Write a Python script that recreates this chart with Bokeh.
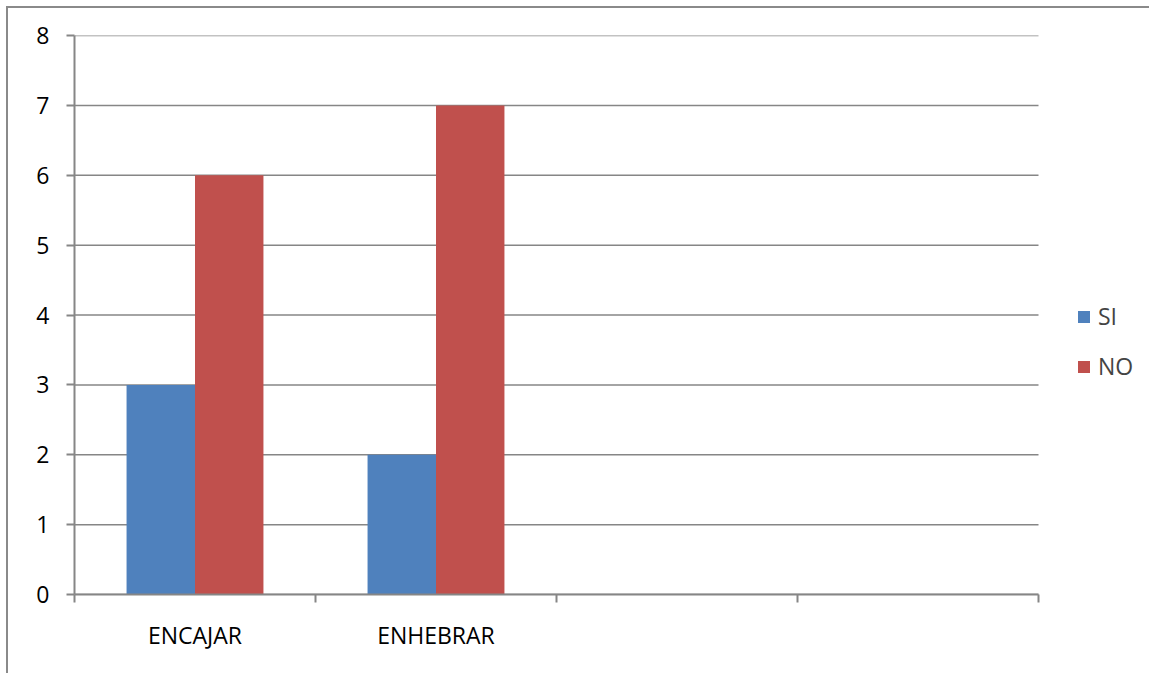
from bokeh.plotting import figure
from bokeh.models import FixedTicker, Legend, LegendItem, Range1d, ColumnDataSource
from bokeh.embed import file_html
from bokeh.resources import INLINE

categories = ["ENCAJAR", "ENHEBRAR", "", ""]
si_values = [3, 2]
no_values = [6, 7]
series_names = ["SI", "NO"]
y_ticks = [0, 1, 2, 3, 4, 5, 6, 7, 8]

BLUE = "#4F81BD"
RED = "#C0504D"
GRID = "#868686"
FONT = "Open Sans"

W, H = 1143, 667
LEFT, TOP, BOTTOM = 66, 27, 81
PLOT_W = 964  # width of the category area in pixels
n = len(categories)
x_end = n * (W - LEFT) / PLOT_W  # frame extends right to hold the legend

p = figure(width=W, height=H, output_backend="svg", toolbar_location=None,
           x_range=Range1d(0, x_end), y_range=Range1d(0, 8),
           min_border_left=LEFT, min_border_top=TOP, min_border_right=0, min_border_bottom=BOTTOM)
p.outline_line_color = None
p.margin = (6, 0, 0, 6)
p.styles = {"border-left": "2px solid #8a8a8a", "border-top": "2px solid #8a8a8a"}

# horizontal grid lines over the category area only
p.segment(x0=[0] * len(y_ticks), x1=[n] * len(y_ticks), y0=y_ticks, y1=y_ticks,
          line_color=GRID, line_width=1.5)

bw = 0.284
xs = [i + 0.5 for i in range(len(si_values))]
src_si = ColumnDataSource(dict(x=[x - bw / 2 for x in xs], top=si_values))
src_no = ColumnDataSource(dict(x=[x + bw / 2 for x in xs], top=no_values))
r_si = p.vbar(x="x", top="top", width=bw, source=src_si, fill_color=BLUE, line_color=None)
r_no = p.vbar(x="x", top="top", width=bw, source=src_no, fill_color=RED, line_color=None)

# x axis
centers = [i + 0.5 for i in range(n)]
p.xaxis.bounds = (0, n)
p.xaxis.ticker = FixedTicker(ticks=centers, minor_ticks=list(range(n + 1)))
p.xaxis.major_label_overrides = {c: lab for c, lab in zip(centers, categories)}
p.xaxis.major_tick_out = 0
p.xaxis.major_tick_in = 0
p.xaxis.minor_tick_out = 8
p.xaxis.minor_tick_in = 0
p.xaxis.minor_tick_line_color = GRID
p.xaxis.minor_tick_line_width = 2
p.xaxis.axis_line_color = GRID
p.xaxis.axis_line_width = 2
p.xaxis.major_label_standoff = 16
p.xaxis.major_label_text_font = FONT
p.xaxis.major_label_text_font_size = "23px"
p.xaxis.major_label_text_color = "#000000"

# y axis
p.yaxis.ticker = FixedTicker(ticks=y_ticks)
p.yaxis.major_tick_out = 8
p.yaxis.major_tick_in = 0
p.yaxis.major_tick_line_color = GRID
p.yaxis.major_tick_line_width = 2
p.yaxis.minor_tick_line_color = None
p.yaxis.axis_line_color = GRID
p.yaxis.axis_line_width = 2
p.yaxis.major_label_standoff = 17
p.yaxis.major_label_text_font = FONT
p.yaxis.major_label_text_font_size = "23px"
p.yaxis.major_label_text_color = "#000000"

p.xgrid.grid_line_color = None
p.ygrid.grid_line_color = None

legend = Legend(items=[LegendItem(label=series_names[0], renderers=[r_si]),
                       LegendItem(label=series_names[1], renderers=[r_no])],
                location=(1002, 212), border_line_color=None, background_fill_alpha=0,
                glyph_width=15, glyph_height=15, spacing=18, label_text_font=FONT,
                label_text_font_size="23px", label_standoff=7, padding=4, margin=0)
p.add_layout(legend)

open("out.html", "w").write(file_html(p, INLINE))
